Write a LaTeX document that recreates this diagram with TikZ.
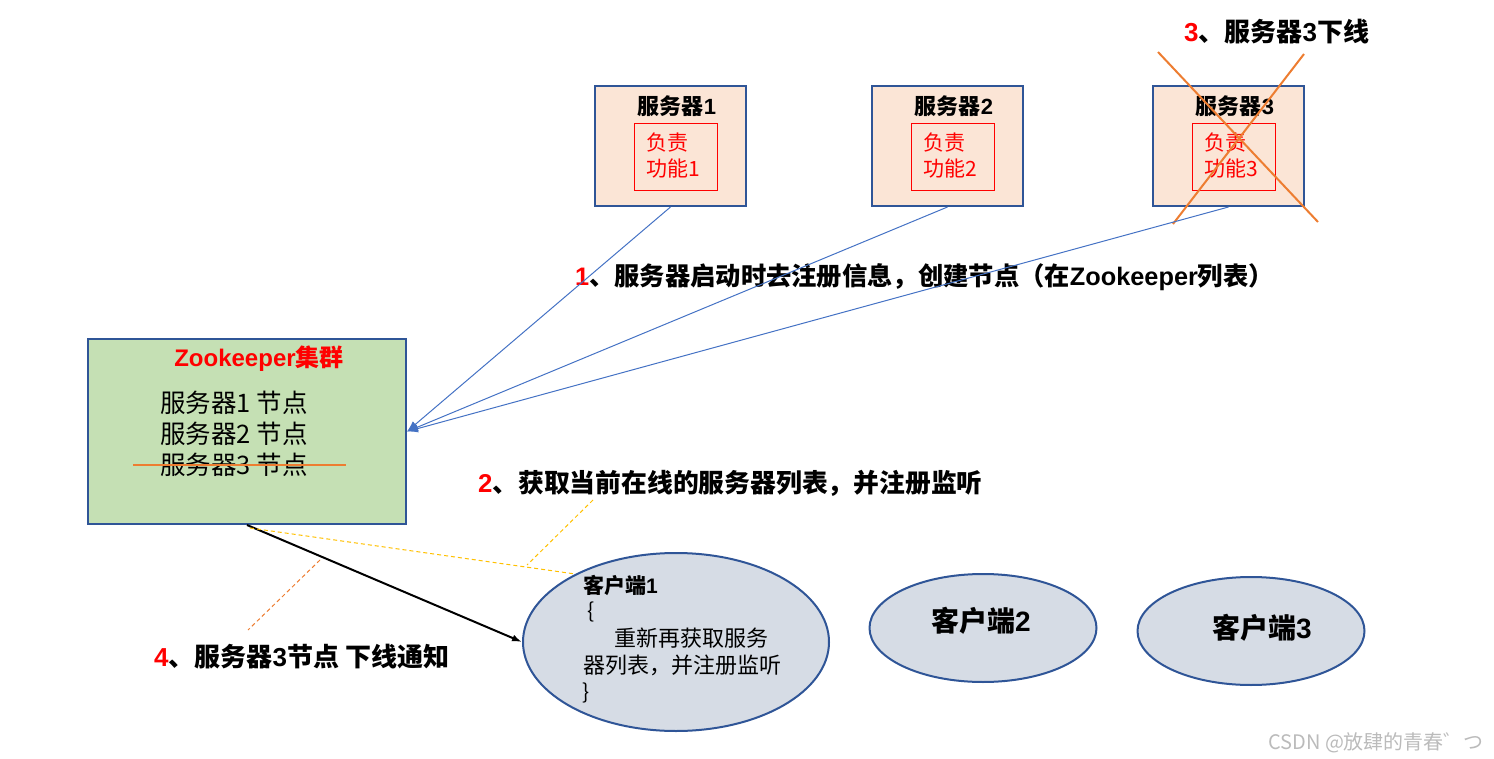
\documentclass[tikz,border=0pt]{standalone}
\usepackage{fontspec}
\setmainfont{Noto Sans CJK SC}
\newfontfamily\latfont{Liberation Sans}
\usetikzlibrary{arrows.meta,shapes.geometric}
\definecolor{bordblue}{HTML}{2F5597}
\definecolor{peach}{HTML}{FBE5D6}
\definecolor{zkgreen}{HTML}{C5E0B4}
\definecolor{clgray}{HTML}{D6DCE5}
\definecolor{lnblue}{HTML}{4472C4}
\definecolor{myorange}{HTML}{ED7D31}
\definecolor{myyellow}{HTML}{FFC000}
\definecolor{myred}{HTML}{FF0000}
\definecolor{wmgray}{HTML}{BBBBBB}
\tikzset{
  srvbox/.style={draw=bordblue, line width=2pt, fill=peach, minimum width=151pt, minimum height=120pt, inner sep=0pt},
  dutybox/.style={draw=myred, line width=1pt, minimum width=83pt, minimum height=67pt, inner sep=0pt},
  zkbox/.style={draw=bordblue, line width=2pt, fill=zkgreen, minimum width=318pt, minimum height=185pt, inner sep=0pt},
  client/.style={ellipse, draw=bordblue, line width=2pt, fill=clgray, inner sep=0pt},
  lbl/.style={inner sep=0pt, anchor=base west},
  reg/.style={lnblue, line width=1pt, -{Latex[length=11pt,width=8pt]}},
  cross/.style={myorange, line width=2pt},
  ydash/.style={myyellow, line width=1pt, dash pattern=on 4pt off 3pt},
  odash/.style={myorange, line width=1pt, dash pattern=on 4pt off 3pt},
}
\begin{document}
\begin{tikzpicture}[x=1pt,y=-1pt]
\useasboundingbox (0,0) rectangle (1494,759);
% servers
\node[srvbox] (s1) at (670.5,146) {};
\node[srvbox] (s2) at (947.5,146) {};
\node[srvbox] (s3) at (1228.5,146) {};
\node[dutybox] (d1) at (675.5,157.5) {};
\node[dutybox] (d2) at (953,157.5) {};
\node[dutybox] (d3) at (1233.5,157.5) {};
\node[font=\fontsize{22}{22}\selectfont\bfseries, inner sep=0pt] (t1) at (677,106) {服务器{\latfont 1}};
\node[font=\fontsize{22}{22}\selectfont\bfseries, inner sep=0pt] (t2) at (954,106) {服务器{\latfont 2}};
\node[font=\fontsize{22}{22}\selectfont\bfseries, inner sep=0pt] (t3) at (1235,106) {服务器{\latfont 3}};
\node[font=\fontsize{21}{26}\selectfont, text=myred, align=left, anchor=north west, inner sep=0pt] (f1) at (646,133) {负责\\功能1};
\node[font=\fontsize{21}{26}\selectfont, text=myred, align=left, anchor=north west, inner sep=0pt] (f2) at (923,133) {负责\\功能2};
\node[font=\fontsize{21}{26}\selectfont, text=myred, align=left, anchor=north west, inner sep=0pt] (f3) at (1204,133) {负责\\功能3};
% cross on server 3
\coordinate (xa) at (1158,52);
\coordinate (xb) at (1318,222);
\coordinate (xc) at (1304,54);
\coordinate (xd) at (1173,224);
\draw[cross] (xa) -- (xb);
\draw[cross] (xc) -- (xd);
% labels
\node[lbl, font=\fontsize{26}{26}\selectfont\bfseries] (l3) at (1184,42) {\textcolor{myred}{\latfont 3}、服务器{\latfont 3}下线};
\node[lbl, font=\fontsize{25.3}{26}\selectfont\bfseries] (l1) at (575,286) {\textcolor{myred}{\latfont 1}、服务器启动时去注册信息，创建节点（在{\latfont Zookeeper}列表）};
\node[lbl, font=\fontsize{25.8}{26}\selectfont\bfseries] (l2) at (478,492) {\textcolor{myred}{\latfont 2}、获取当前在线的服务器列表，并注册监听};
\node[lbl, font=\fontsize{26}{26}\selectfont\bfseries] (l4) at (154,666) {\textcolor{myred}{\latfont 4}、服务器{\latfont 3}节点 下线通知};
% zookeeper
\node[zkbox] (zk) at (247,431.5) {};
\node[font=\fontsize{24}{24}\selectfont\bfseries, text=myred, inner sep=0pt] (zkt) at (259,359) {{\latfont Zookeeper}集群};
\node[font=\fontsize{25.5}{31}\selectfont, align=left, anchor=north west, inner sep=0pt] (zkl) at (160,391) {服务器1 节点\\服务器2 节点\\服务器3 节点};
\coordinate (sa) at (133,465);
\coordinate (sb) at (346,465);
\draw[cross] (sa) -- (sb);
% registration arrows
\draw[reg] (s1.south) -- (zk.east);
\draw[reg] (s2.south) -- (zk.east);
\draw[reg] (s3.south) -- (zk.east);
% clients
\node[client, minimum width=306pt, minimum height=178pt] (c1) at (676,642) {};
\node[client, minimum width=227pt, minimum height=108pt] (c2) at (983,628) {};
\node[client, minimum width=227pt, minimum height=108pt] (c3) at (1251,631) {};
\node[font=\fontsize{28}{28}\selectfont\bfseries, inner sep=0pt] (c2t) at (981,621) {客户端{\latfont 2}};
\node[font=\fontsize{28}{28}\selectfont\bfseries, inner sep=0pt] (c3t) at (1262,628) {客户端{\latfont 3}};
\node[lbl, font=\fontsize{21}{21}\selectfont\bfseries] (c1t) at (583,593) {客户端{\latfont 1}};
\node[lbl, font=\fontsize{21}{21}\selectfont] (c1a) at (587,618) {\{};
\node[lbl, font=\fontsize{22}{22}\selectfont] (c1b) at (614,646) {重新再获取服务};
\node[lbl, font=\fontsize{22}{22}\selectfont] (c1c) at (583,673) {器列表，并注册监听};
\node[lbl, font=\fontsize{21}{21}\selectfont] (c1d) at (582,699) {\}};
% notification
\draw[line width=2pt, -{Latex[length=10pt,width=7pt]}] (zk.south) -- (c1.west);
\draw[ydash] (zk.south) ++(3,3) coordinate (ys) -- (c1.146);
\coordinate (ya) at (593,500);
\coordinate (yb) at (527,565);
\draw[ydash] (ya) -- (yb);
\coordinate (oa) at (320,560);
\coordinate (ob) at (248,630);
\draw[odash] (oa) -- (ob);
% watermark
\node[lbl, font=\fontsize{20}{20}\selectfont, text=wmgray] (wm) at (1268,749) {CSDN @放肆的青春゛つ};
\end{tikzpicture}
\end{document}
